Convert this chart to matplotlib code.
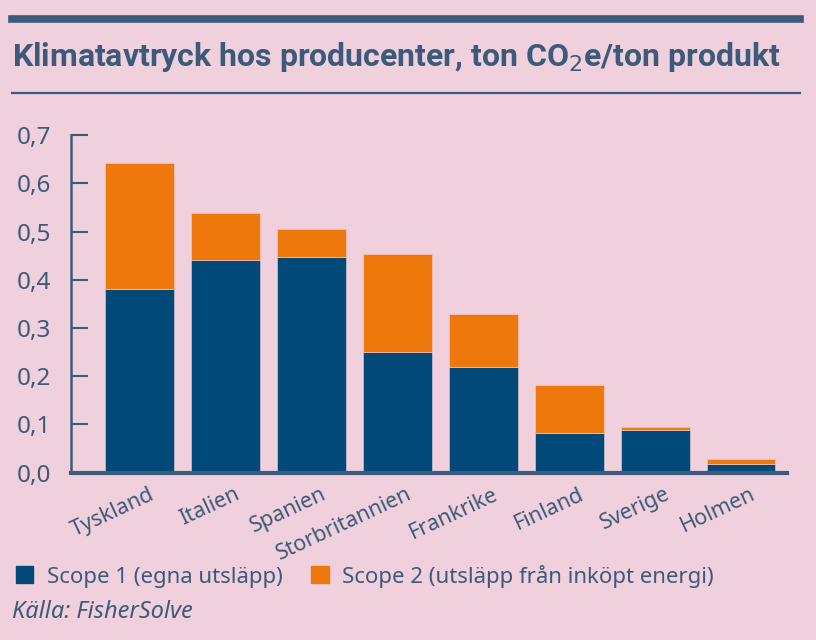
import numpy as np
import matplotlib.pyplot as plt
import matplotlib.transforms as mtrans
from matplotlib.lines import Line2D
from matplotlib.patches import Patch

countries = ["Tyskland", "Italien", "Spanien", "Storbritannien",
             "Frankrike", "Finland", "Sverige", "Holmen"]
scope1 = [0.38, 0.44, 0.447, 0.25, 0.22, 0.082, 0.088, 0.019]
total = [0.642, 0.539, 0.506, 0.454, 0.328, 0.181, 0.095, 0.029]
scope2 = [t - s for t, s in zip(total, scope1)]
yticks = [0.0, 0.1, 0.2, 0.3, 0.4, 0.5, 0.6, 0.7]

bg = "#F0D0DC"
navy = "#004978"
orange = "#EE780B"
ink = "#3C5A7A"

plt.rcParams["font.family"] = ["Noto Sans", "DejaVu Sans"]

fig = plt.figure(figsize=(8.16, 6.4), dpi=100, facecolor=bg)
ax = fig.add_axes([0.0866, 0.2614, 0.964 - 0.0866, 0.789 - 0.2614])
ax.set_facecolor(bg)

x = np.arange(len(countries))
ax.bar(x, scope1, width=0.8, color=navy, edgecolor=bg, linewidth=0.4)
ax.bar(x, scope2, width=0.8, bottom=scope1, color=orange, edgecolor=bg, linewidth=0.4)

ax.set_xlim(-0.8, 7.53)
ax.set_ylim(0, 0.7)
ax.set_yticks(yticks)
ax.set_yticklabels([f"{v:.1f}".replace(".", ",") for v in yticks])
ax.tick_params(axis="y", direction="in", length=12, width=1.5, color=ink,
               labelcolor=ink, labelsize=17.5, pad=14)
ax.set_xticks(x)
ax.set_xticklabels(countries, rotation=25, ha="right", va="top",
                   rotation_mode="anchor", color=ink, fontsize=15.5)
ax.tick_params(axis="x", length=0, pad=8)
shift = mtrans.ScaledTranslation(9 / 100, 0, fig.dpi_scale_trans)
for lab in ax.get_xticklabels():
    lab.set_transform(lab.get_transform() + shift)

for s in ["top", "right"]:
    ax.spines[s].set_visible(False)
ax.spines["left"].set_color(ink)
ax.spines["left"].set_linewidth(1.8)
ax.spines["bottom"].set_color(ink)
ax.spines["bottom"].set_linewidth(3)

# header lines and title
fig.add_artist(Line2D([12 / 816, 800 / 816], [1 - 19 / 640] * 2, color=ink, lw=5.5))
fig.add_artist(Line2D([12 / 816, 800 / 816], [1 - 92.5 / 640] * 2, color=ink, lw=1.6))
fig.text(12 / 816, 1 - 66 / 640, "Klimatavtryck hos producenter, ton CO$_2$e/ton produkt",
         color=ink, fontsize=23, fontweight="bold", ha="left", va="baseline",
         family="Roboto")

handles = [Patch(color=navy), Patch(color=orange)]
fig.legend(handles, ["Scope 1 (egna utsläpp)", "Scope 2 (utsläpp från inköpt energi)"],
           loc="center left", bbox_to_anchor=(0.0, 1 - 576 / 640), ncol=2,
           frameon=False, fontsize=16, labelcolor=ink, handlelength=0.8,
           handleheight=0.8, handletextpad=0.6, columnspacing=1.3, borderaxespad=0.3)

fig.text(12 / 816, 1 - 612 / 640, "Källa: FisherSolve", color=ink, fontsize=17,
         style="italic", ha="left", va="center")

fig.savefig("out.png", dpi=100, facecolor=bg)
